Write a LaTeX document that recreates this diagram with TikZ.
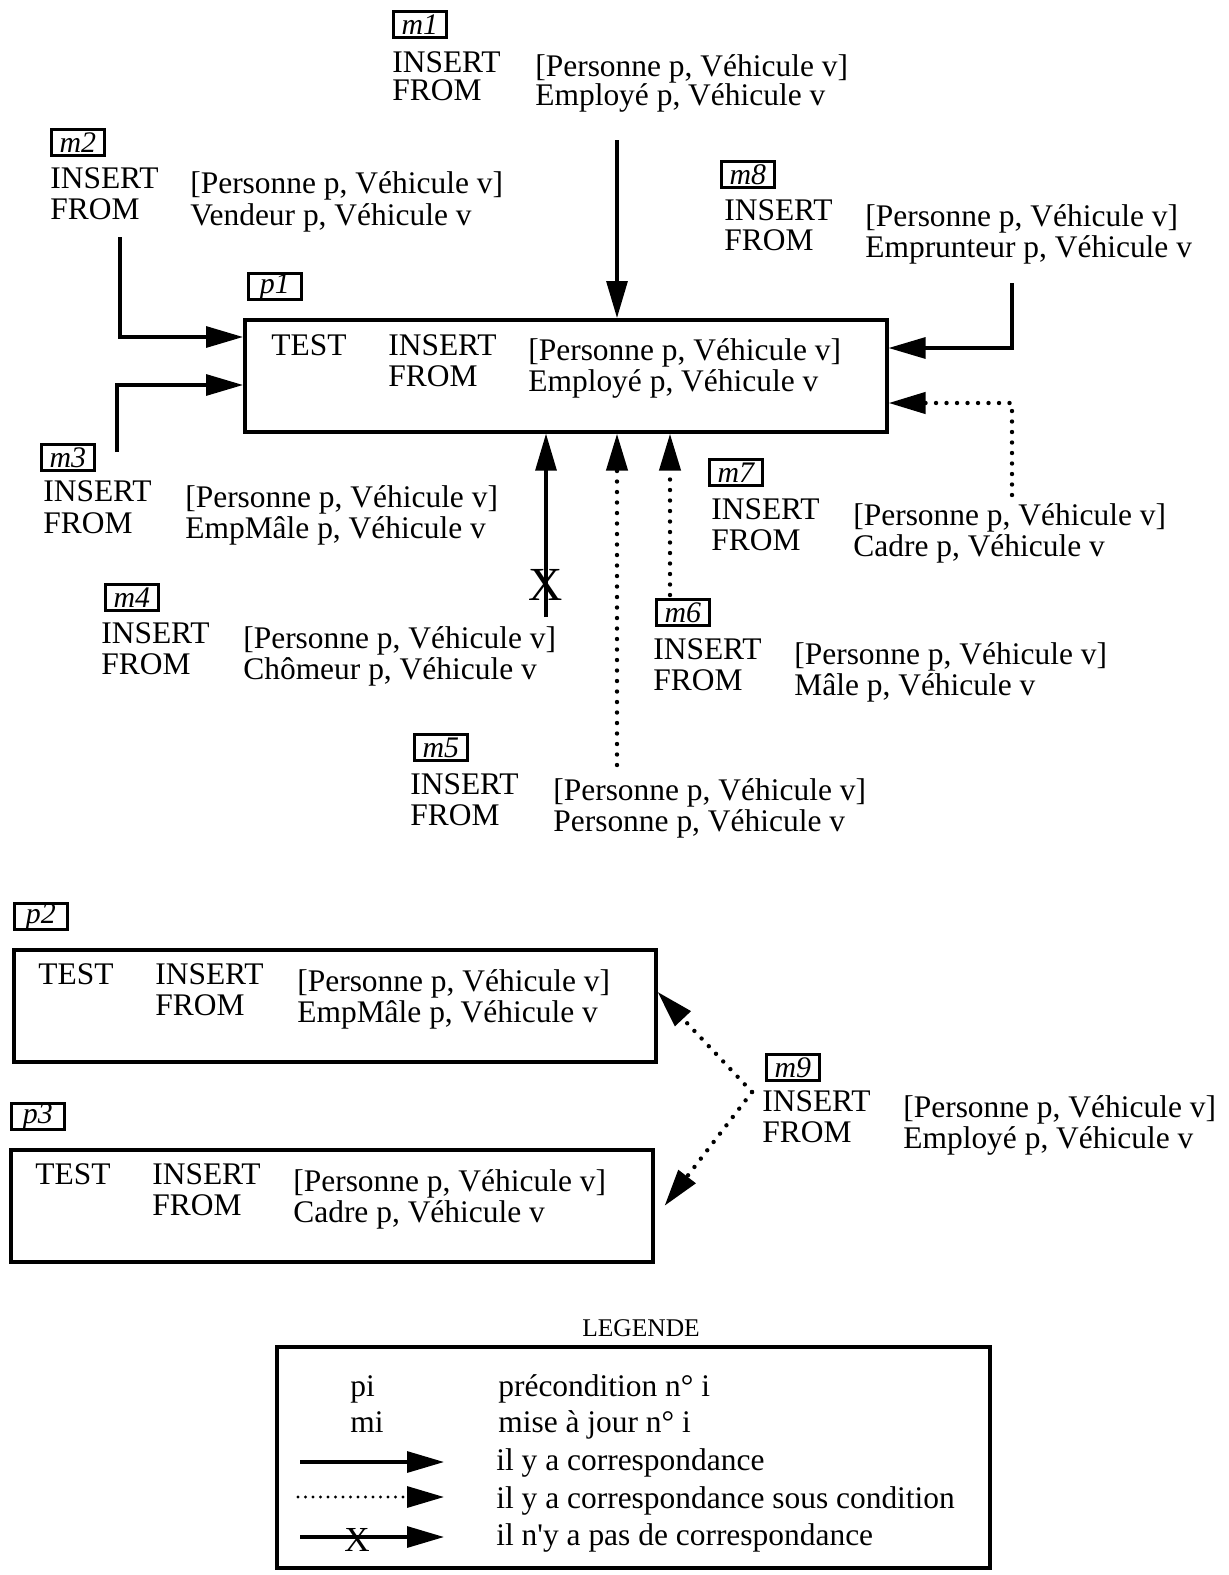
\documentclass[tikz,border=0pt]{standalone}
\usepackage{fontspec}
\setmainfont{Liberation Serif}
\usetikzlibrary{arrows.meta}

\begin{document}
\begin{tikzpicture}[x=0.02cm,y=-0.02cm,
	every node/.style={inner sep=0pt, anchor=base west},
	lbl/.style={draw, line width=1.6pt, anchor=north west, minimum width=1.06cm, minimum height=0.52cm, font=\fontsize{17}{17}\selectfont\itshape},
	precond/.style={draw, line width=2.1pt, anchor=north west, minimum width=12.84cm, minimum height=2.24cm},
	corr/.style={line width=1.8pt, -{Triangle[length=0.74cm,width=0.42cm]}},
	condcorr/.style={corr, line width=2.5pt, line cap=round, dash pattern=on 0pt off 0.21cm},
	nocorr/.style={anchor=center, font=\fontsize{27}{27}\selectfont}]
\fontsize{17.9}{21}\selectfont
\useasboundingbox (0,0) rectangle (1228,1575);
%----------------------------------------------------------
	% Precondition p1
	%------------------------------------------------------
	\node[lbl] (lp1) at (247,272) {p1};
	\node[precond] (p1) at (243,318) {};
	\node (p1t) at (271,355) {TEST};
	\node (p1i) at (388,355) {INSERT};
	\node (p1f) at (388,386) {FROM};
	\node (p1a) at (528,360) {[Personne p, Véhicule v]};
	\node (p1b) at (528,391) {Employé p, Véhicule v};

	% Mises a jour m1 ... m8
	%------------------------------------------------------
	\node[lbl] (m1) at (392,10) {m1};
	\node (m1i) at (392,72) {INSERT};
	\node (m1f) at (392,101) {FROM};
	\node (m1a) at (535,77) {[Personne p, Véhicule v]};
	\node (m1b) at (535,106) {Employé p, Véhicule v};

	\node[lbl] (m2) at (50,128) {m2};
	\node (m2i) at (50,188) {INSERT};
	\node (m2f) at (50,219) {FROM};
	\node (m2a) at (190,194) {[Personne p, Véhicule v]};
	\node (m2b) at (190,225) {Vendeur p, Véhicule v};

	\node[lbl] (m8) at (720,160) {m8};
	\node (m8i) at (724,220) {INSERT};
	\node (m8f) at (724,250) {FROM};
	\node (m8a) at (865,226) {[Personne p, Véhicule v]};
	\node (m8b) at (865,257) {Emprunteur p, Véhicule v};

	\node[lbl] (m3) at (40,443) {m3};
	\node (m3i) at (43,501) {INSERT};
	\node (m3f) at (43,533) {FROM};
	\node (m3a) at (185,507) {[Personne p, Véhicule v]};
	\node (m3b) at (185,538) {EmpMâle p, Véhicule v};

	\node[lbl] (m7) at (708,458) {m7};
	\node (m7i) at (711,519) {INSERT};
	\node (m7f) at (711,550) {FROM};
	\node (m7a) at (853,525) {[Personne p, Véhicule v]};
	\node (m7b) at (853,556) {Cadre p, Véhicule v};

	\node[lbl] (m4) at (104,583) {m4};
	\node (m4i) at (101,643) {INSERT};
	\node (m4f) at (101,674) {FROM};
	\node (m4a) at (243,648) {[Personne p, Véhicule v]};
	\node (m4b) at (243,679) {Chômeur p, Véhicule v};

	\node[lbl] (m6) at (655,598) {m6};
	\node (m6i) at (653,659) {INSERT};
	\node (m6f) at (653,690) {FROM};
	\node (m6a) at (794,664) {[Personne p, Véhicule v]};
	\node (m6b) at (794,695) {Mâle p, Véhicule v};

	\node[lbl] (m5) at (413,733) {m5};
	\node (m5i) at (410,794) {INSERT};
	\node (m5f) at (410,825) {FROM};
	\node (m5a) at (553,800) {[Personne p, Véhicule v]};
	\node (m5b) at (553,831) {Personne p, Véhicule v};

	% Correspondances vers p1
	%------------------------------------------------------
	\coordinate (m1s) at (617,140);
	\coordinate (m2s) at (120,237);
	\coordinate (m2c) at (120,337);
	\coordinate (m3s) at (117,452);
	\coordinate (m3c) at (117,385);
	\coordinate (m8s) at (1012,283);
	\coordinate (m8c) at (1012,348);
	\coordinate (m7s) at (1012,495);
	\coordinate (m7c) at (1012,403);
	\coordinate (m4s) at (546,617);
	\coordinate (m5s) at (617,765);
	\coordinate (m6s) at (670,595);

	\draw[corr] (m1s) -- (m1s |- p1.north);
	\draw[corr] (m2s) -- (m2c) -- (m2c -| p1.west);
	\draw[corr] (m3s) -- (m3c) -- (m3c -| p1.west);
	\draw[corr] (m8s) -- (m8c) -- (m8c -| p1.east);
	\draw[condcorr] (m7s) -- (m7c) -- (m7c -| p1.east);
	\draw[corr] (m4s) -- (m4s |- p1.south);
	\node[nocorr] (x4) at (546,585) {X};
	\draw[condcorr] (m5s) -- (m5s |- p1.south);
	\draw[condcorr] (m6s) -- (m6s |- p1.south);

	% Preconditions p2, p3 et mise a jour m9
	%------------------------------------------------------
	\node[lbl] (lp2) at (13,902) {p2};
	\node[precond] (p2) at (12,948) {};
	\node (p2t) at (38,984) {TEST};
	\node (p2i) at (155,984) {INSERT};
	\node (p2f) at (155,1015) {FROM};
	\node (p2a) at (297,991) {[Personne p, Véhicule v]};
	\node (p2b) at (297,1022) {EmpMâle p, Véhicule v};

	\node[lbl] (lp3) at (10,1102) {p3};
	\node[precond] (p3) at (9,1148) {};
	\node (p3t) at (35,1184) {TEST};
	\node (p3i) at (152,1184) {INSERT};
	\node (p3f) at (152,1215) {FROM};
	\node (p3a) at (293,1191) {[Personne p, Véhicule v]};
	\node (p3b) at (293,1222) {Cadre p, Véhicule v};

	\node[lbl] (m9) at (765,1053) {m9};
	\node (m9i) at (762,1111) {INSERT};
	\node (m9f) at (762,1142) {FROM};
	\node (m9a) at (903,1117) {[Personne p, Véhicule v]};
	\node (m9b) at (903,1148) {Employé p, Véhicule v};

	\coordinate (m9s) at (752,1092);
	\draw[condcorr] (m9s) -- ([yshift=0.28cm]p2.east);
	\draw[condcorr] (m9s) -- ([xshift=0.2cm]p3.east);

	% Legende
	%------------------------------------------------------
	\node[anchor=base, font=\fontsize{14.5}{14.5}\selectfont] (leg) at (641,1336) {LEGENDE};
	\node[draw, line width=2.1pt, anchor=north west, minimum width=14.26cm, minimum height=4.42cm] (legbox) at (275,1345) {};
	\node (lpi) at (350,1396) {pi};
	\node (lmi) at (350,1432) {mi};
	\node (tpi) at (498,1396) {précondition n° i};
	\node (tmi) at (498,1432) {mise à jour n° i};
	\node (tc1) at (496,1470) {il y a correspondance};
	\node (tc2) at (496,1508) {il y a correspondance sous condition};
	\node (tc3) at (496,1545) {il n\textquotesingle y a pas de correspondance};

	\coordinate (ls1) at (300,1462);
	\coordinate (le1) at (444,1462);
	\coordinate (ls2) at (298,1497);
	\coordinate (le2) at (444,1497);
	\coordinate (ls3) at (300,1537);
	\coordinate (le3) at (444,1537);
	\draw[corr] (ls1) -- (le1);
	\draw[condcorr, line width=1.8pt, dash pattern=on 0pt off 0.15cm] (ls2) -- (le2);
	\draw[corr] (ls3) -- (le3);
	\node[nocorr, font=\fontsize{20}{20}\selectfont] (x3) at (357,1540) {X};

\end{tikzpicture}
\end{document}
